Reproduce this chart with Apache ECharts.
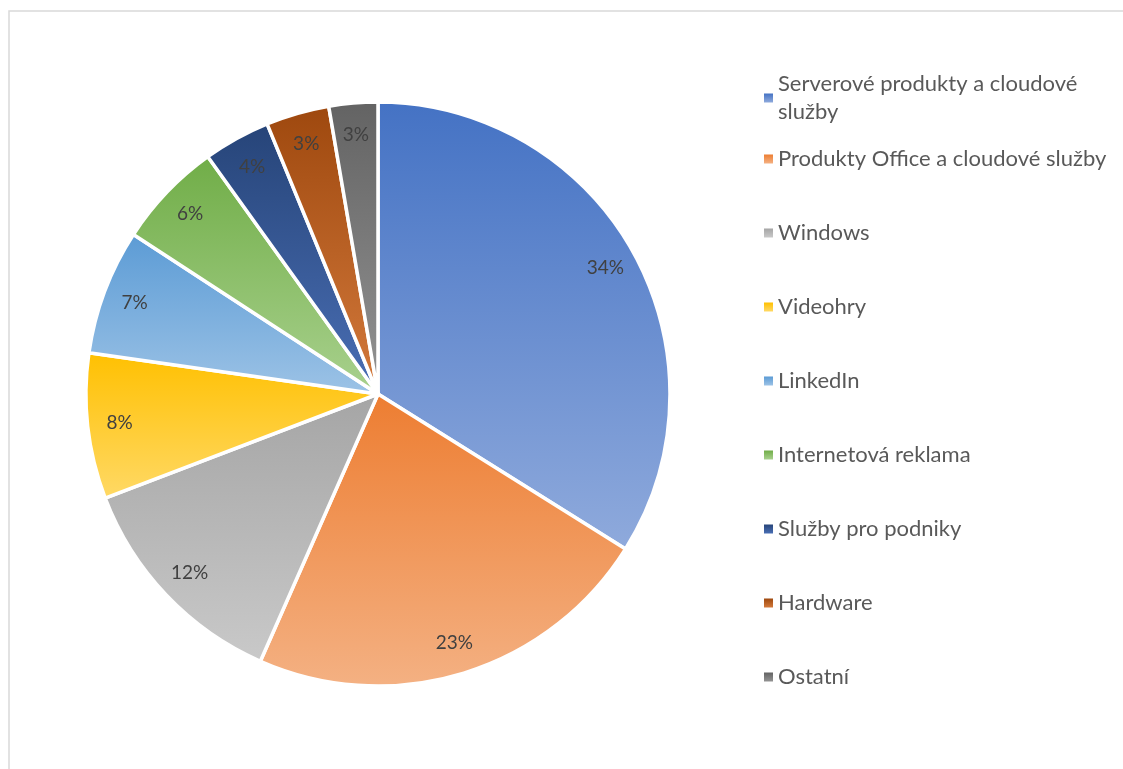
<!DOCTYPE html>
<html>
<head>
<meta charset="utf-8">
<script src="https://cdn.jsdelivr.net/npm/echarts@6/dist/echarts.min.js"></script>
<style>
  html, body { margin: 0; padding: 0; background: #fff; }
  #chart { width: 1123px; height: 769px; }
</style>
</head>
<body>
<div id="chart"></div>
<script>
// data (percent of revenue)
var categories = [
  "Serverové produkty a cloudové služby",
  "Produkty Office a cloudové služby",
  "Windows",
  "Videohry",
  "LinkedIn",
  "Internetová reklama",
  "Služby pro podniky",
  "Hardware",
  "Ostatní"
];
var values = [33.9, 22.7, 12.6, 8.05, 6.95, 5.9, 3.7, 3.5, 2.7];
var labels = ["34%", "23%", "12%", "8%", "7%", "6%", "4%", "3%", "3%"];
// top / bottom colour of each slice gradient
var colorsTop = ["#4472C4", "#ED7D31", "#A5A5A5", "#FFC000", "#5B9BD5", "#70AD47", "#264478", "#9E480E", "#636363"];
var colorsBottom = ["#8FAADC", "#F4B183", "#C9C9C9", "#FFD966", "#9DC3E6", "#A9D18E", "#4A6FB5", "#D47A3C", "#939393"];

var chart = echarts.init(document.getElementById("chart"));

function grad(i) {
  return new echarts.graphic.LinearGradient(0, 0, 0, 1, [
    { offset: 0, color: colorsTop[i] },
    { offset: 1, color: colorsBottom[i] }
  ]);
}

var pieData = categories.map(function (name, i) {
  return { name: name, value: values[i], itemStyle: { color: grad(i) } };
});

var labelData = categories.map(function (name, i) {
  return { name: name, value: values[i] };
});

var legendText = {
  color: "#595959",
  fontSize: 22,
  fontFamily: "Lato",
  lineHeight: 28
};

var option = {
  backgroundColor: "#fff",
  animation: false,
  graphic: [
    {
      type: "rect",
      shape: { x: 9, y: 11, width: 1200, height: 900 },
      style: { fill: "none", stroke: "#d9d9d9", lineWidth: 1.5 },
      silent: true
    }
  ],
  legend: [
    {
      // first item wraps onto two lines, icon stays with the first line
      orient: "vertical",
      left: 759,
      top: 51,
      itemWidth: 9,
      itemHeight: 9,
      itemGap: 8,
      icon: "rect",
      itemStyle: { borderWidth: 0 },
      data: [categories[0]],
      formatter: function () {
        return "Serverové produkty a cloudové\nslužby";
      },
      textStyle: Object.assign({}, legendText, {
        padding: [28, 0, 0, 0],
        backgroundColor: "rgba(0,0,0,0)"
      })
    },
    {
      orient: "vertical",
      left: 759,
      top: 140,
      itemWidth: 9,
      itemHeight: 9,
      itemGap: 46,
      icon: "rect",
      itemStyle: { borderWidth: 0 },
      data: categories.slice(1),
      textStyle: legendText
    }
  ],
  series: [
    {
      type: "pie",
      center: [378, 394],
      radius: [0, 292],
      startAngle: 90,
      clockwise: true,
      avoidLabelOverlap: false,
      label: { show: false },
      labelLine: { show: false },
      itemStyle: { borderColor: "#fff", borderWidth: 3.5 },
      emphasis: { disabled: true },
      data: pieData
    },
    {
      // transparent ring used only to place the percentage labels
      type: "pie",
      center: [378, 394],
      radius: [222, 292],
      startAngle: 90,
      clockwise: true,
      silent: true,
      avoidLabelOverlap: false,
      itemStyle: { color: "rgba(0,0,0,0)", borderWidth: 0 },
      labelLine: { show: false },
      label: {
        show: true,
        position: "inside",
        color: "#404040",
        fontSize: 19,
        fontFamily: "Lato",
        formatter: function (p) {
          return labels[p.dataIndex];
        }
      },
      emphasis: { disabled: true },
      data: labelData
    }
  ]
};

chart.setOption(option);
</script>
</body>
</html>
